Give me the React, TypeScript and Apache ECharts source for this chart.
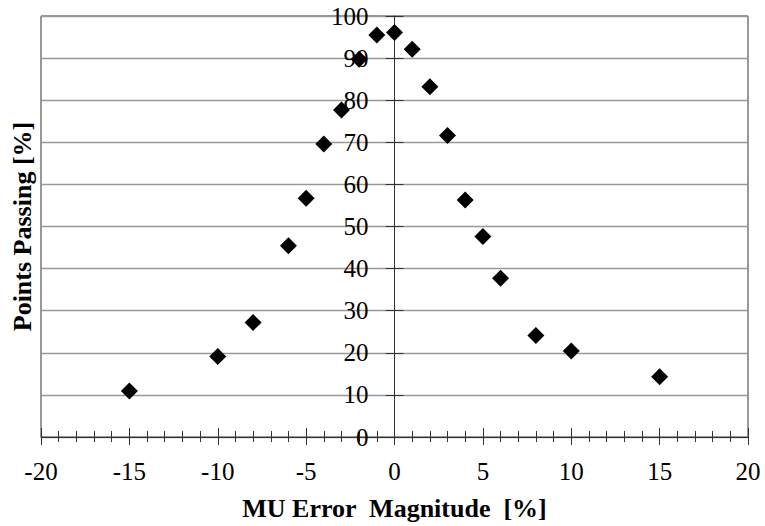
import React, { useEffect, useRef } from "react";
import * as echarts from "echarts";

const xValues = [-15, -10, -8, -6, -5, -4, -3, -2, -1, 0, 1, 2, 3, 4, 5, 6, 8, 10, 15];
const yValues = [10.9, 19.1, 27.2, 45.4, 56.7, 69.6, 77.7, 89.7, 95.5, 96.1, 92.1, 83.2, 71.6, 56.3, 47.6, 37.7, 24.1, 20.4, 14.3];
const xTitle = "MU Error  Magnitude  [%]";
const yTitle = "Points Passing [%]";

const FONT = "'Liberation Serif', 'Times New Roman', serif";
const AXIS_COLOR = "#333";

export default function App() {
  const ref = useRef<HTMLDivElement>(null);
  useEffect(() => {
    if (!ref.current) return;
    const chart = echarts.init(ref.current, null, { renderer: "svg" });
    const data = xValues.map((x, i) => [x, yValues[i]]);
    const gridLeft = 41;
    const gridRight = 17;
    const plotW = 765 - gridLeft - gridRight;
    const zeroOffset = -plotW / 2;
    chart.setOption({
      animation: false,
      backgroundColor: "#fff",
      textStyle: { fontFamily: FONT },
      grid: {
        left: gridLeft,
        right: gridRight,
        top: 16,
        bottom: 89,
        show: true,
        containLabel: false,
        outerBoundsMode: "none",
        borderColor: AXIS_COLOR,
        borderWidth: 1,
        backgroundColor: "transparent",
      },
      xAxis: [
        {
          type: "value",
          position: "bottom",
          min: -20,
          max: 20,
          interval: 5,
          name: xTitle,
          nameLocation: "middle",
          nameGap: 58,
          nameTextStyle: { fontFamily: FONT, fontSize: 26, fontWeight: "bold", color: "#000" },
          axisLine: { show: true, onZero: false, lineStyle: { color: AXIS_COLOR, width: 1 } },
          axisTick: { show: true, inside: false, length: 8, lineStyle: { color: AXIS_COLOR } },
          minorTick: { show: true, splitNumber: 5, length: 5, lineStyle: { color: AXIS_COLOR } },
          axisLabel: { fontFamily: FONT, fontSize: 25, color: "#000", margin: 22 },
          splitLine: { show: false },
        },
        {
          type: "value",
          position: "bottom",
          min: -20,
          max: 20,
          interval: 5,
          axisLine: { show: false, onZero: false },
          axisTick: { show: true, inside: true, length: 9, lineStyle: { color: AXIS_COLOR } },
          minorTick: { show: true, splitNumber: 5, length: 6, lineStyle: { color: AXIS_COLOR } },
          axisLabel: { show: false },
          splitLine: { show: false },
        },
      ],
      yAxis: [
        {
          type: "value",
          position: "left",
          offset: zeroOffset,
          min: 0,
          max: 100,
          interval: 10,
          axisLine: { show: true, onZero: false, lineStyle: { color: AXIS_COLOR, width: 1 } },
          axisTick: { show: true, inside: false, length: 9, lineStyle: { color: AXIS_COLOR } },
          axisLabel: { fontFamily: FONT, fontSize: 25, color: "#000", margin: 26 },
          splitLine: { show: true, lineStyle: { color: "#999", width: 1.3 } },
        },
        {
          type: "value",
          position: "left",
          offset: zeroOffset,
          min: 0,
          max: 100,
          interval: 10,
          axisLine: { show: false, onZero: false },
          axisTick: { show: true, inside: true, length: 9, lineStyle: { color: AXIS_COLOR } },
          axisLabel: { show: false },
          splitLine: { show: false },
        },
        {
          type: "value",
          position: "left",
          min: 0,
          max: 100,
          interval: 10,
          name: yTitle,
          nameLocation: "middle",
          nameGap: 6,
          nameTextStyle: { fontFamily: FONT, fontSize: 26, fontWeight: "bold", color: "#000" },
          axisLine: { show: false, onZero: false },
          axisTick: { show: false },
          axisLabel: { show: false },
          splitLine: { show: false },
        },
      ],
      series: [
        {
          type: "scatter",
          xAxisIndex: 0,
          yAxisIndex: 0,
          symbol: "diamond",
          symbolSize: 17,
          itemStyle: { color: "#000", opacity: 1 },
          data,
          z: 5,
        },
      ],
    });
    return () => chart.dispose();
  }, []);
  return <div ref={ref} style={{ width: 765, height: 526, position: "absolute", left: 0, top: 0 }} />;
}
